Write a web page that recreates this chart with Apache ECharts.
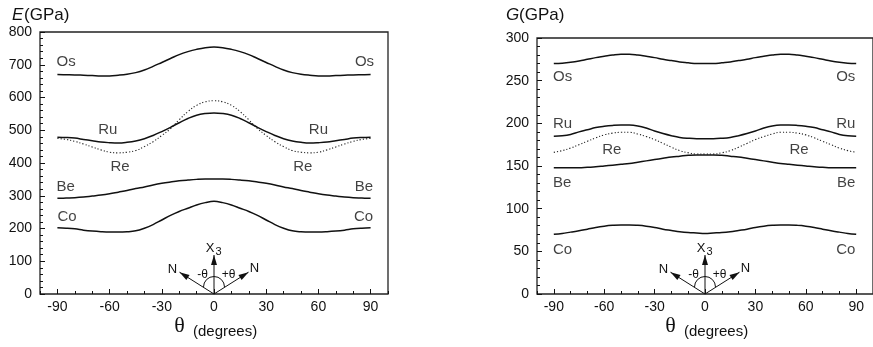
<!DOCTYPE html>
<html>
<head>
<meta charset="utf-8">
<script src="https://cdn.jsdelivr.net/npm/echarts@6/dist/echarts.min.js"></script>
<style>
  html, body { margin: 0; background: #fff; }
  #chart { width: 873px; height: 347px; }
</style>
</head>
<body>
<div id="chart"></div>
<script>
// angle θ (degrees) of the sampled points
const angles = [-90, -85, -80, -75, -70, -65, -60, -55, -50, -45, -40, -35, -30, -25, -20, -15, -10, -5, 0,
    5, 10, 15, 20, 25, 30, 35, 40, 45, 50, 55, 60, 65, 70, 75, 80, 85, 90];
const xTickValues = [-90, -60, -30, 0, 30, 60, 90];

// Young's modulus E (GPa)
const eOs = [670, 669.5, 669, 668, 667, 666, 666, 668, 671, 676, 684, 695, 707, 719, 731, 740, 747, 752, 754,
    752, 747, 740, 731, 719, 707, 695, 684, 676, 671, 668, 666, 666, 667, 668, 669, 669.5, 670];
const eRu = [479, 478, 476, 472, 468, 464, 462, 461, 463, 467, 474, 484, 496, 509, 523, 536, 546, 551, 553,
    551, 546, 536, 523, 509, 496, 484, 474, 467, 463, 461, 462, 464, 468, 472, 476, 478, 479];
const eRe = [475, 472, 466, 458, 449, 440, 433, 431, 433, 438, 450, 465, 484, 505, 532, 557, 576, 587, 590,
    587, 576, 557, 532, 505, 484, 465, 450, 438, 433, 431, 433, 440, 449, 458, 466, 472, 475];
const eBe = [292, 293, 294, 296, 299, 302, 306, 311, 316, 322, 327, 333, 338, 342, 345.5, 348, 350, 351, 351,
    351, 350, 348, 345.5, 342, 338, 333, 327, 322, 316, 311, 306, 302, 299, 296, 294, 293, 292];
const eCo = [202, 201, 199, 195, 192, 190, 189, 189, 190, 193, 201, 212, 226, 240, 252, 262, 272, 279, 283,
    279, 272, 262, 252, 240, 226, 212, 201, 193, 190, 189, 189, 190, 192, 195, 199, 201, 202];

// shear modulus G (GPa)
const gOs = [270, 270.5, 271.5, 273, 275, 277, 278.5, 280, 281, 281, 280, 278.5, 277, 275, 273.5, 272, 271, 270, 270,
    270, 271, 272, 273.5, 275, 277, 278.5, 280, 281, 281, 280, 278.5, 277, 275, 273, 271.5, 270.5, 270];
const gRu = [185, 185.5, 187, 190, 192.5, 195, 196.5, 197.5, 198, 198, 197, 194.5, 191, 188, 185.5, 183.5, 182.5, 182, 182,
    182, 182.5, 183.5, 185.5, 188, 191, 194.5, 197, 198, 198, 197.5, 196.5, 195, 192.5, 190, 187, 185.5, 185];
const gRe = [166, 168, 171, 175, 179, 183, 186.5, 188.5, 189.5, 189.5, 187.5, 184.5, 181, 176.5, 172, 168, 165.5, 164, 164,
    164, 165.5, 168, 172, 176.5, 181, 184.5, 187.5, 189.5, 189.5, 188.5, 186.5, 183, 179, 175, 171, 168, 166];
const gBe = [148, 148, 148, 148, 148.5, 149, 150, 151, 152, 153, 154.5, 156, 157.5, 159, 160.5, 161.5, 162.5, 163, 163,
    163, 162.5, 161.5, 160.5, 159, 157.5, 156, 154.5, 153, 152, 151, 150, 149, 148.5, 148, 148, 148, 148];
const gCo = [70, 71, 72.5, 74, 76, 78, 79.5, 80.5, 81, 81, 80.5, 79.5, 78, 76, 74.5, 73, 72, 71.5, 71,
    71.5, 72, 73, 74.5, 76, 78, 79.5, 80.5, 81, 81, 80.5, 79.5, 78, 76, 74, 72.5, 71, 70];

// curve names written on the plot: [θ, value, text, align]
const eLabels = [
    [-90.5, 708, 'Os', 'left'], [92, 708, 'Os', 'right'],
    [-61, 501, 'Ru', 'center'], [60, 501, 'Ru', 'center'],
    [-54, 388, 'Re', 'center'], [51, 389, 'Re', 'center'],
    [-90.5, 327, 'Be', 'left'], [91.5, 327, 'Be', 'right'],
    [-90, 235, 'Co', 'left'], [91.5, 235, 'Co', 'right']
];
const gLabels = [
    [-90.5, 254, 'Os', 'left'], [89.5, 254, 'Os', 'right'],
    [-90.5, 199, 'Ru', 'left'], [89.5, 199, 'Ru', 'right'],
    [-55.5, 168.5, 'Re', 'center'], [56, 168.5, 'Re', 'center'],
    [-90.5, 130.5, 'Be', 'left'], [89.5, 130.5, 'Be', 'right'],
    [-90.5, 52, 'Co', 'left'], [89.5, 52, 'Co', 'right']
];

const FONT = '"Liberation Sans", Arial, sans-serif';
const INK = '#111';

const chart = echarts.init(document.getElementById('chart'), null, { renderer: 'canvas' });

const zip = (vals) => angles.map((a, i) => [a, vals[i]]);

function curve(name, vals, grid, dotted) {
    return {
        name,
        type: 'line',
        xAxisIndex: grid * 2,
        yAxisIndex: grid,
        data: zip(vals),
        smooth: 0.4,
        symbol: 'none',
        silent: true,
        lineStyle: dotted
            ? { color: '#222', width: 1.1, type: [1.2, 2] }
            : { color: INK, width: 1.5 }
    };
}

function labelSeries(items, grid) {
    return {
        type: 'scatter',
        xAxisIndex: grid * 2,
        yAxisIndex: grid,
        symbolSize: 1,
        itemStyle: { color: 'transparent' },
        silent: true,
        data: items.map(d => ({
            value: [d[0], d[1]],
            name: d[2],
            label: { align: d[3] }
        })),
        label: {
            show: true,
            position: 'inside',
            formatter: '{b}',
            verticalAlign: 'middle',
            color: INK,
            fontSize: 15,
            fontFamily: FONT
        }
    };
}

function xAxes(grid) {
    return [
        {   // fine ticks every 10°
            type: 'value', gridIndex: grid, position: 'bottom',
            min: -100, max: 100, interval: 10,
            axisLine: { show: false, onZero: false },
            axisTick: { inside: true, length: 3, lineStyle: { color: INK, width: 1 } },
            axisLabel: { show: false },
            splitLine: { show: false }
        },
        {   // labelled ticks every 30°
            type: 'value', gridIndex: grid, position: 'bottom',
            min: -100, max: 100,
            axisLine: { show: false, onZero: false },
            axisTick: { inside: true, length: 5, customValues: xTickValues, lineStyle: { color: INK, width: 1 } },
            axisLabel: { customValues: xTickValues, margin: 6, color: INK, fontSize: 14, fontFamily: FONT },
            splitLine: { show: false }
        }
    ];
}

function yAxis(grid, max, interval) {
    return {
        type: 'value', gridIndex: grid, position: 'left',
        min: 0, max, interval,
        axisLine: { show: false, onZero: false },
        axisTick: { inside: true, length: 5, lineStyle: { color: INK, width: 1 } },
        minorTick: { show: true, splitNumber: 5, length: 3, lineStyle: { color: INK, width: 1 } },
        axisLabel: { margin: 8, color: INK, fontSize: 14, fontFamily: FONT },
        splitLine: { show: false },
        minorSplitLine: { show: false }
    };
}

const option = {
    animation: false,
    backgroundColor: '#fff',
    grid: [
        { left: 40, top: 32, width: 348, height: 262, show: true, borderColor: '#222', borderWidth: 1.3, backgroundColor: 'transparent' },
        { left: 537, top: 38, width: 344, height: 256, show: true, borderColor: '#222', borderWidth: 1.3, backgroundColor: 'transparent' }
    ],
    xAxis: [...xAxes(0), ...xAxes(1)],
    yAxis: [yAxis(0, 800, 100), yAxis(1, 300, 50)],
    series: [
        curve('Os', eOs, 0), curve('Ru', eRu, 0), curve('Re', eRe, 0, true),
        curve('Be', eBe, 0), curve('Co', eCo, 0),
        curve('Os', gOs, 1), curve('Ru', gRu, 1), curve('Re', gRe, 1, true),
        curve('Be', gBe, 1), curve('Co', gCo, 1),
        labelSeries(eLabels, 0), labelSeries(gLabels, 1)
    ]
};

chart.setOption(option);

// axis titles and the small orientation sketch, placed from the axis origin
function text(x, y, str, opts) {
    return {
        type: 'text', x, y, silent: true,
        style: Object.assign({
            text: str, fill: INK, fontSize: 14, fontFamily: FONT,
            align: 'center', verticalAlign: 'middle'
        }, opts || {})
    };
}

function arrowHead(tx, ty, dx, dy) {
    const len = Math.hypot(dx, dy), ux = dx / len, uy = dy / len;
    const bx = tx - ux * 10, by = ty - uy * 10;
    return {
        type: 'polygon', silent: true,
        shape: { points: [[tx, ty], [bx - uy * 3, by + ux * 3], [bx + uy * 3, by - ux * 3]] },
        style: { fill: INK }
    };
}

function sketch(grid) {
    const o = chart.convertToPixel({ xAxisIndex: grid * 2, yAxisIndex: grid }, [0, 0]);
    const ox = o[0], oy = o[1];
    const line = (x2, y2) => ({
        type: 'line', silent: true,
        shape: { x1: ox, y1: oy, x2, y2 },
        style: { stroke: INK, lineWidth: 1 }
    });
    return [
        line(ox, oy - 39), arrowHead(ox, oy - 39, 0, -1),
        line(ox - 34.5, oy - 21.8), arrowHead(ox - 34.5, oy - 21.8, -34.5, -21.8),
        line(ox + 34.5, oy - 21.8), arrowHead(ox + 34.5, oy - 21.8, 34.5, -21.8),
        {
            type: 'arc', silent: true,
            shape: { cx: ox, cy: oy - 7, r: 10.5, startAngle: Math.PI, endAngle: Math.PI * 2, clockwise: true },
            style: { stroke: INK, lineWidth: 1, fill: null }
        },
        text(ox - 4, oy - 46, 'X', { fontSize: 13 }),
        text(ox + 4.5, oy - 42, '3', { fontSize: 11 }),
        text(ox - 41.5, oy - 25, 'N', { fontSize: 13 }),
        text(ox + 40.5, oy - 25.5, 'N', { fontSize: 13 }),
        text(ox - 11.5, oy - 19, '-θ', { fontSize: 12 }),
        text(ox + 14.5, oy - 19, '+θ', { fontSize: 12 }),
        text(ox - 34.5, oy + 32.5, 'θ', { fontSize: 22, fontFamily: '"Liberation Serif", "DejaVu Serif", serif' }),
        text(ox - 21, oy + 37.5, '(degrees)', { fontSize: 15, align: 'left' })
    ];
}

const graphics = [
    text(12, 15, 'E', { fontSize: 17, fontStyle: 'italic', align: 'left' }),
    text(24, 15, '(GPa)', { fontSize: 17, align: 'left' }),
    text(506, 15, 'G', { fontSize: 17, fontStyle: 'italic', align: 'left' }),
    text(519, 15, '(GPa)', { fontSize: 17, align: 'left' }),
    ...sketch(0),
    ...sketch(1)
];

chart.setOption({ graphic: graphics });
</script>
</body>
</html>
